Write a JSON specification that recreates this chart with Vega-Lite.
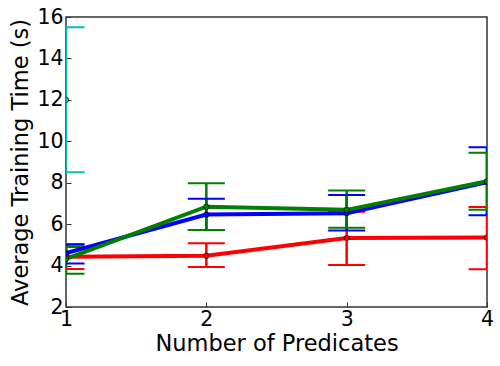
{
  "$schema": "https://vega.github.io/schema/vega-lite/v6.json",
  "autosize": "none",
  "width": 421,
  "height": 290,
  "padding": {"left": 66, "top": 17, "right": 13, "bottom": 59},
  "background": "white",
  "config": {
    "font": "DejaVu Sans",
    "view": {"stroke": "#333333", "strokeWidth": 1.5},
    "axis": {
      "grid": false,
      "domain": false,
      "labelFont": "DejaVu Sans",
      "titleFont": "DejaVu Sans",
      "labelFontSize": 20.5,
      "titleFontSize": 22.5,
      "titleFontWeight": "normal",
      "labelColor": "black",
      "titleColor": "black",
      "tickColor": "#333333",
      "tickSize": -5,
      "labelFlush": false,
      "labelOverlap": false
    }
  },
  "data": {
    "values": [
      {"s": "red", "x": 1, "m": 4.42, "lo": 3.83, "hi": 5.04},
      {"s": "red", "x": 2, "m": 4.47, "lo": 3.93, "hi": 5.08},
      {"s": "red", "x": 3, "m": 5.33, "lo": 4.03, "hi": 6.6},
      {"s": "red", "x": 4, "m": 5.35, "lo": 3.82, "hi": 6.83},
      {"s": "blue", "x": 1, "m": 4.6, "lo": 4.1, "hi": 5.0},
      {"s": "blue", "x": 2, "m": 6.46, "lo": 5.72, "hi": 7.23},
      {"s": "blue", "x": 3, "m": 6.53, "lo": 5.69, "hi": 7.41},
      {"s": "blue", "x": 4, "m": 8.03, "lo": 6.43, "hi": 9.71},
      {"s": "green", "x": 1, "m": 4.32, "lo": 3.6, "hi": 4.9},
      {"s": "green", "x": 2, "m": 6.84, "lo": 5.72, "hi": 7.97},
      {"s": "green", "x": 3, "m": 6.69, "lo": 5.83, "hi": 7.62},
      {"s": "green", "x": 4, "m": 8.07, "lo": 6.69, "hi": 9.45},
      {"s": "cyan", "x": 1, "m": 12.0, "lo": 8.5, "hi": 15.5}
    ]
  },
  "encoding": {
    "x": {
      "field": "x", "type": "quantitative",
      "scale": {"domain": [1, 4], "nice": false, "zero": false},
      "axis": {"values": [1, 2, 3, 4], "format": "d", "title": "Number of Predicates", "labelPadding": 7, "titlePadding": 3}
    },
    "color": {
      "field": "s", "type": "nominal",
      "scale": {"domain": ["red", "blue", "green", "cyan"], "range": ["#ff0000", "#0000ff", "#008000", "#00bfbf"]},
      "legend": null
    }
  },
  "layer": [
    {
      "mark": {"type": "rule", "strokeWidth": 2.5, "clip": true},
      "encoding": {
        "y": {"field": "lo", "type": "quantitative",
          "scale": {"domain": [2, 16], "nice": false, "zero": false},
          "axis": {"values": [2, 4, 6, 8, 10, 12, 14, 16], "title": "Average Training Time (s)", "labelPadding": 8, "titlePadding": 4}},
        "y2": {"field": "hi"}
      }
    },
    {
      "mark": {"type": "tick", "orient": "horizontal", "size": 37, "thickness": 2, "clip": true, "opacity": 1},
      "encoding": {"y": {"field": "lo", "type": "quantitative"}}
    },
    {
      "mark": {"type": "tick", "orient": "horizontal", "size": 37, "thickness": 2, "clip": true, "opacity": 1},
      "encoding": {"y": {"field": "hi", "type": "quantitative"}}
    },
    {
      "mark": {"type": "line", "strokeWidth": 4, "clip": true},
      "encoding": {"y": {"field": "m", "type": "quantitative"}, "detail": {"field": "s"}}
    },
    {
      "mark": {"type": "point", "filled": true, "size": 30, "stroke": "black", "strokeWidth": 0.6, "opacity": 1, "clip": true},
      "encoding": {"y": {"field": "m", "type": "quantitative"}}
    }
  ]
}
